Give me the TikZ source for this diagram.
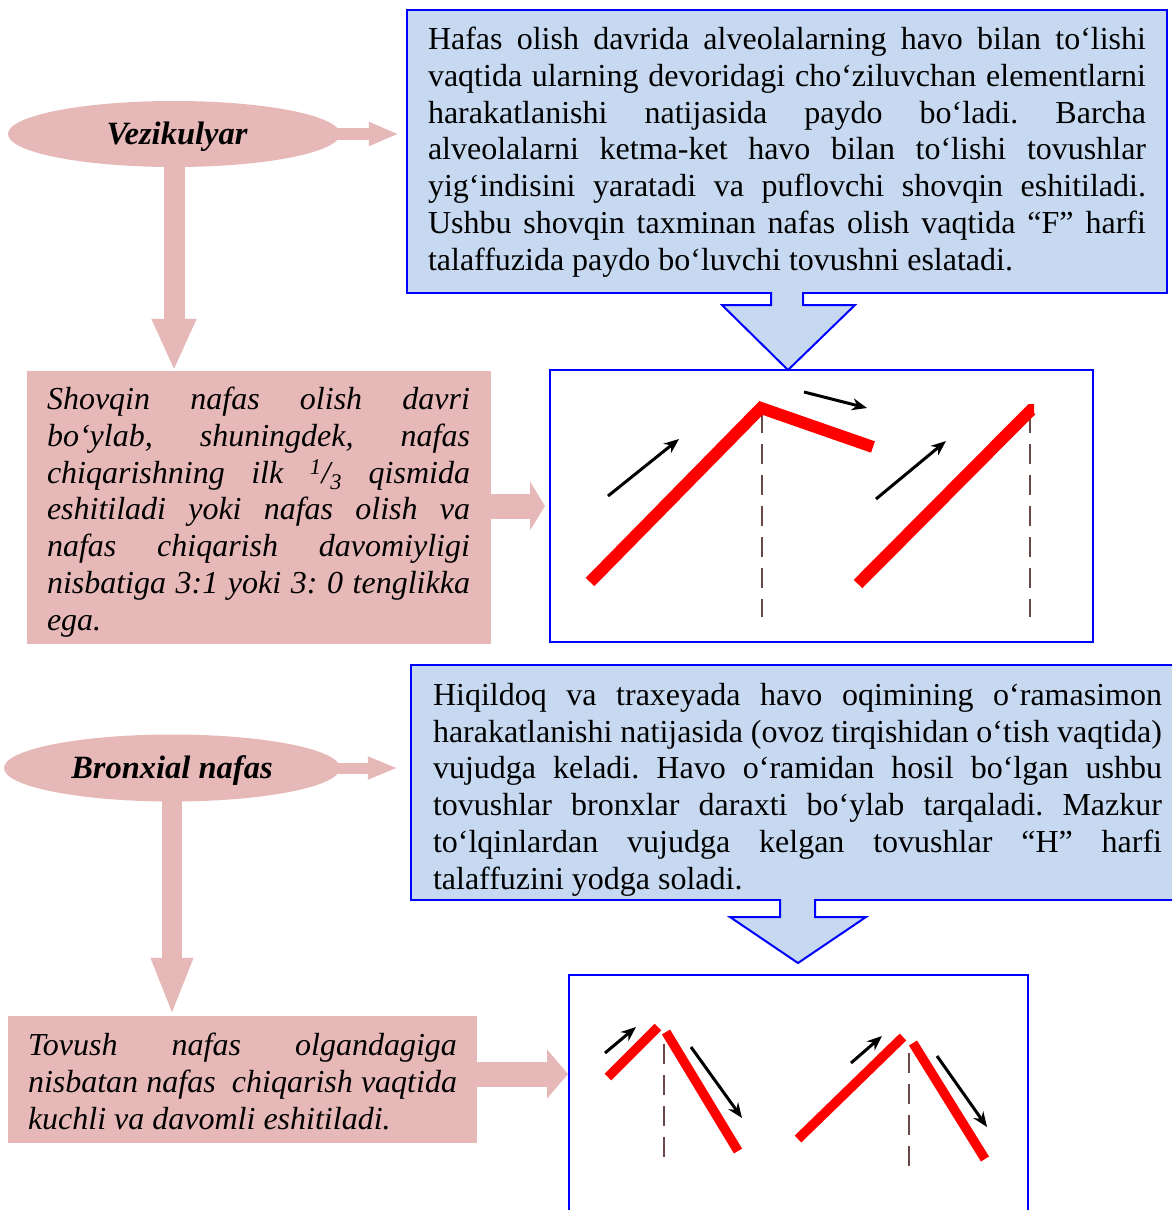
\documentclass[tikz,border=0pt]{standalone}
\usepackage{fontspec}
\setmainfont{Liberation Serif}
\usetikzlibrary{shapes.geometric,arrows.meta}
\definecolor{pinkc}{HTML}{E6B8B7}
\definecolor{bluefill}{HTML}{C6D9F1}
\definecolor{blueline}{HTML}{0000FF}
\definecolor{redl}{HTML}{FF0000}
\definecolor{dashc}{HTML}{6B4848}
\newcommand\JL[2]{\makebox[#1][s]{#2}}
\frenchspacing
\begin{document}
\begin{tikzpicture}[x=1pt,y=-1pt,
  bluebox/.style={draw=blueline, line width=2.5pt, fill=bluefill, inner sep=0pt},
  pinkbox/.style={fill=pinkc, inner sep=0pt},
  graphbox/.style={draw=blueline, line width=2pt, fill=white, inner sep=0pt},
  bodytext/.style={inner sep=0pt, align=left, font=\fontsize{32}{36.8}\selectfont},
  itext/.style={inner sep=0pt, align=left, font=\fontsize{32}{36.8}\selectfont\itshape},
  oval/.style={ellipse, fill=pinkc, inner sep=0pt},
  ovaltext/.style={inner sep=0pt, font=\fontsize{32.5}{38}\selectfont\bfseries\itshape},
  bluearrow/.style={fill=bluefill},
  blueoutline/.style={draw=blueline, line width=2pt, line join=miter},
  redline/.style={draw=redl, line width=12pt, line join=miter},
  redthin/.style={draw=redl, line width=9.5pt},
  guide/.style={draw=dashc, line width=1.5pt, dash pattern=on 20pt off 11pt},
  motion/.style={draw=black, line width=3pt, -{Stealth[length=15pt,width=12pt]}}
]
\useasboundingbox[fill=white] (0,0) rectangle (1172,1210);

% ---------- top part ----------
\node[oval, minimum width=332pt, minimum height=66pt] (e1) at (174,134) {};
\node[ovaltext] (e1text) at (177,137) {Vezikulyar};
\node[bluebox, minimum width=760pt, minimum height=283pt] (top) at (787,151.5) {};
\node[bodytext] (toptext) at (787,152.5) {%
\JL{718pt}{\strut Hafas olish davrida alveolalarning havo bilan to‘lishi}\\
\JL{718pt}{vaqtida ularning devoridagi cho‘ziluvchan elementlarni}\\
\JL{718pt}{harakatlanishi natijasida paydo bo‘ladi. Barcha}\\
\JL{718pt}{alveolalarni ketma-ket havo bilan to‘lishi tovushlar}\\
\JL{718pt}{yig‘indisini yaratadi va puflovchi shovqin eshitiladi.}\\
\JL{718pt}{Ushbu shovqin taxminan nafas olish vaqtida “F” harfi}\\
talaffuzida paydo bo‘luvchi tovushni eslatadi.\strut};

\node[pinkbox, minimum width=464pt, minimum height=273pt] (p1) at (259,507.5) {};
\node[itext] (p1text) at (258.5,512.5) {%
\JL{423pt}{\strut Shovqin nafas olish davri}\\
\JL{423pt}{bo‘ylab, shuningdek, nafas}\\
\JL{423pt}{chiqarishning ilk \textsuperscript{1}/\textsubscript{3} qismida}\\
\JL{423pt}{eshitiladi yoki nafas olish va}\\
\JL{423pt}{nafas chiqarish davomiyligi}\\
\JL{423pt}{nisbatiga 3:1 yoki 3: 0 tenglikka}\\
ega.\strut};

\node[graphbox, minimum width=543pt, minimum height=272pt] (g1) at (821.5,506) {};

% pink block arrows (top)
\draw[pinkc, line width=12pt, -{Triangle[length=30pt,width=22pt]}, shorten >=7pt]
  ([xshift=-3pt]e1.east) -- (e1.east -| top.west);
\draw[pinkc, line width=21pt, -{Triangle[length=52pt,width=41pt]}]
  ([yshift=2pt]e1.south) -- (e1.south |- p1.north);
\draw[pinkc, line width=25pt, -{Triangle[length=15pt,width=48pt]}, shorten >=4pt]
  (p1.east |- g1.west) -- (g1.west);

% blue block arrow (top)
\fill[bluearrow] (771,289) -- (771,305) -- (722,305) -- (788,370) -- (855,305) -- (803,305) -- (803,289) -- cycle;
\draw[blueoutline] (771,292) -- (771,305) -- (722,305) -- (788,370) -- (855,305) -- (803,305) -- (803,292);

% graph 1
\draw[guide] (762,413) -- (762,617);
\draw[guide] (1030,413) -- (1030,617);
\draw[redline] (590,582) -- (761,408) -- (873,447);
\draw[redline] (858,584) -- (1031,410) -- (1034,410);
\draw[motion] (608,496) -- (679,439);
\draw[motion] (804,392) -- (867,408);
\draw[motion] (876,499) -- (946,441);

% ---------- bottom part ----------
\node[oval, minimum width=336pt, minimum height=67pt] (e2) at (172,768) {};
\node[ovaltext] (e2text) at (172,771) {Bronxial nafas};
\node[bluebox, minimum width=773pt, minimum height=235pt] (b2) at (797.5,782.5) {};
\node[bodytext] (b2text) at (797.5,790) {%
\JL{729pt}{\strut Hiqildoq va traxeyada havo oqimining o‘ramasimon}\\
\JL{729pt}{harakatlanishi natijasida (ovoz tirqishidan o‘tish vaqtida)}\\
\JL{729pt}{vujudga keladi. Havo o‘ramidan hosil bo‘lgan ushbu}\\
\JL{729pt}{tovushlar bronxlar daraxti bo‘ylab tarqaladi. Mazkur}\\
\JL{729pt}{to‘lqinlardan vujudga kelgan tovushlar “H” harfi}\\
talaffuzini yodga soladi.\strut};

\node[pinkbox, minimum width=469pt, minimum height=127pt] (p2) at (242.5,1079.5) {};
\node[itext] (p2text) at (242.5,1085) {%
\JL{429pt}{\strut Tovush nafas olgandagiga}\\
\JL{429pt}{nisbatan nafas~ chiqarish vaqtida}\\
kuchli va davomli eshitiladi.\strut};

\node[graphbox, minimum width=459pt, minimum height=250pt] (g2) at (798.5,1100) {};

% pink block arrows (bottom)
\draw[pinkc, line width=11pt, -{Triangle[length=30pt,width=21pt]}, shorten >=12pt]
  ([xshift=-3pt]e2.east) -- (e2.east -| b2.west);
\draw[pinkc, line width=20pt, -{Triangle[length=58pt,width=38pt]}]
  ([yshift=2pt]e2.south) -- (e2.south |- p2.north);
\draw[pinkc, line width=25pt, -{Triangle[length=21pt,width=48pt]}]
  ([yshift=5.5pt]p2.east) -- ([yshift=5.5pt]p2.east -| g2.west);

% blue block arrow (bottom)
\fill[bluearrow] (780,896) -- (780,917) -- (730,917) -- (798,963) -- (866,917) -- (815,917) -- (815,896) -- cycle;
\draw[blueoutline] (780,899) -- (780,917) -- (730,917) -- (798,963) -- (866,917) -- (815,917) -- (815,899);

% graph 2
\draw[guide] (664,1044) -- (664,1167);
\draw[guide] (909,1053) -- (909,1176);
\draw[redthin] (608,1077) -- (658,1027);
\draw[redthin] (666,1032) -- (738,1151);
\draw[redthin] (798,1139) -- (903,1037);
\draw[redthin] (913,1043) -- (985,1159);
\draw[motion] (605,1053) -- (636,1027);
\draw[motion] (691,1047) -- (742,1118);
\draw[motion] (851,1063) -- (882,1036);
\draw[motion] (937,1056) -- (987,1127);
\end{tikzpicture}
\end{document}
